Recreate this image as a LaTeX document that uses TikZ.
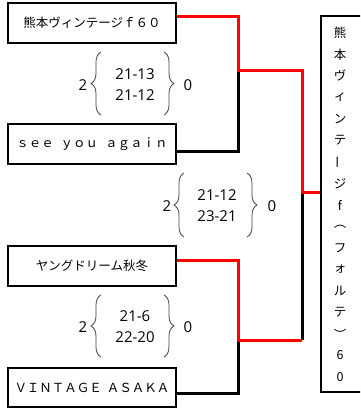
\documentclass[tikz,border=0pt]{standalone}
\usepackage{fontspec}
\setmainfont{Open Sans}
\newfontfamily\jp{Noto Sans CJK JP}
\usetikzlibrary{decorations.pathreplacing}
\begin{document}
\begin{tikzpicture}[x=1pt,y=-1pt,
  team/.style={draw, line width=2pt, minimum width=168pt, minimum height=40pt, inner sep=0pt, font=\jp\fontsize{12.5}{14}\selectfont},
  champ/.style={draw, line width=2pt, minimum width=44pt, minimum height=376pt, inner sep=0pt},
  vch/.style={font=\jp\fontsize{12.5}{14}\selectfont, inner sep=0pt},
  win/.style={draw=red, line width=3pt},
  lose/.style={draw=black, line width=3pt},
  brc/.style={decorate, decoration={brace, amplitude=10pt}, line width=0.8pt, draw=black!75},
  score/.style={font=\fontsize{15}{21}\selectfont, align=center, inner sep=0pt},
  pts/.style={font=\fontsize{15}{18}\selectfont, inner sep=0pt}]
\useasboundingbox (0,0) rectangle (360,408);
\clip (0,0) rectangle (360,408);
% teams
\node[team] (b1) at (92,23) {熊本ヴィンテージｆ６０};
\node[team] (b2) at (92,144) {ｓｅｅ\hspace{0.55em}ｙｏｕ\hspace{0.55em}ａｇａｉｎ};
\node[team] (b3) at (92,266) {ヤングドリーム秋冬};
\node[team, minimum height=39pt] (b4) at (92,387.5) {ＶＩＮＴＡＧＥ\hspace{0.4em}ＡＳＡＫＡ};
\node[champ] (f) at (343,204) {};
\foreach \c [count=\i] in {熊,本,ヴ,ィ,ン,テ,{\rotatebox{90}{ー}},ジ,f,︵,フ,ォ,ル,テ,︶,6,0}
  \node[vch] (v\i) at (340,{33+21.5*(\i-1)}) {\c};
% junctions
\coordinate (m1) at (238,70);
\coordinate (m2) at (238,340);
\coordinate (j) at (302,192);
% connectors
\draw[lose] (m1) |- ([yshift=-7pt]b2.east);
\draw[lose] (m2) |- ([yshift=-5.5pt]b4.east);
\draw[lose] (m2 -| j) -- (j);
\draw[win] ([yshift=7pt]b1.east) -| (m1) -| (j) -- (j -| f.west);
\draw[win] ([yshift=6pt]b3.east) -| (m2) -- (m2 -| j);
% scores 1
\node[pts] (p1a) at (83,85) {2};
\node[score] (s1) at (135,85) {21-13\\21-12};
\node[pts] (p1b) at (188,85) {0};
\draw[brc] (101,115) -- (101,52);
\draw[brc] (164,52) -- (164,115);
% scores 2
\node[pts] (p2a) at (167,206) {2};
\node[score] (s2) at (217,206) {21-12\\23-21};
\node[pts] (p2b) at (272,206) {0};
\draw[brc] (184,237) -- (184,173);
\draw[brc] (247,173) -- (247,237);
% scores 3
\node[pts] (p3a) at (83,327) {2};
\node[score] (s3) at (135,327) {21-6\\22-20};
\node[pts] (p3b) at (188,327) {0};
\draw[brc] (101,357) -- (101,295);
\draw[brc] (164,295) -- (164,357);
\end{tikzpicture}
\end{document}
